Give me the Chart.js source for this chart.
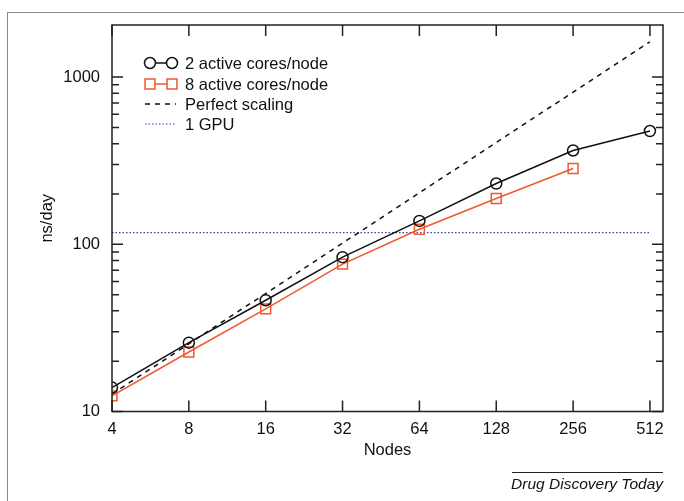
<!DOCTYPE html>
<html>
<head>
<meta charset="utf-8">
<script src="https://cdn.jsdelivr.net/npm/chart.js@4/dist/chart.umd.min.js"></script>
<style>
  body { margin: 0; background: #fff; }
  #wrap { width: 684px; height: 501px; position: relative; }
</style>
</head>
<body>
<div id="wrap"><canvas id="myChart"></canvas></div>
<script>
var nodes = [4, 8, 16, 32, 64, 128, 256, 512];
var cores2 = [13.9, 25.8, 46.3, 83.8, 138, 231, 364, 476];
var cores8 = [12.4, 22.7, 41.1, 76.1, 123, 188, 284];
var perfectNodes = [4, 512];
var perfect = [12.7, 1626];
var gpuNodes = [4, 512];
var gpu = [117.5, 117.5];
var yTicks = [10, 100, 1000];
var yMinor = [20, 30, 40, 50, 60, 70, 80, 90, 200, 300, 400, 500, 600, 700, 800, 900];
var legendLabels = ["2 active cores/node", "8 active cores/node", "Perfect scaling", "1 GPU"];

var orange = "rgb(240,88,48)";
var fontFam = "'Liberation Sans', Arial, Helvetica, sans-serif";

function pts(xs, ys) {
    var out = [];
    for (var i = 0; i < ys.length; i++) {
        out.push({ x: xs[i], y: ys[i] });
    }
    return out;
}

// frame, inward ticks, legend and credit line
var extras = {
    id: "extras",
    afterDraw: function (chart) {
        var ctx = chart.ctx;
        var a = chart.chartArea;
        var xs = chart.scales.x, ys = chart.scales.y;
        ctx.save();

        // outer grey frame
        ctx.strokeStyle = "#8a8a8a";
        ctx.lineWidth = 1;
        ctx.strokeRect(7.5, 12.5, 720, 600);

        // plot box
        ctx.strokeStyle = "#222";
        ctx.lineWidth = 1.5;
        ctx.strokeRect(a.left, a.top, a.right - a.left, a.bottom - a.top);

        // ticks
        ctx.beginPath();
        nodes.forEach(function (v) {
            var px = xs.getPixelForValue(v);
            ctx.moveTo(px, a.bottom); ctx.lineTo(px, a.bottom - 11);
            ctx.moveTo(px, a.top); ctx.lineTo(px, a.top + 11);
        });
        yTicks.forEach(function (v) {
            var py = ys.getPixelForValue(v);
            ctx.moveTo(a.left, py); ctx.lineTo(a.left + 11, py);
            ctx.moveTo(a.right, py); ctx.lineTo(a.right - 11, py);
        });
        yMinor.forEach(function (v) {
            var py = ys.getPixelForValue(v);
            ctx.moveTo(a.left, py); ctx.lineTo(a.left + 7, py);
            ctx.moveTo(a.right, py); ctx.lineTo(a.right - 7, py);
        });
        ctx.stroke();

        // legend
        var ds = chart.data.datasets;
        var lx0 = 145, lx1 = 176, ly = [63, 84, 104, 124];
        ctx.font = "16.5px " + fontFam;
        ctx.textBaseline = "middle";
        ctx.textAlign = "left";
        for (var i = 0; i < 4; i++) {
            var d = ds[i];
            ctx.strokeStyle = d.borderColor;
            ctx.lineWidth = d.borderWidth;
            ctx.setLineDash(d.borderDash || []);
            ctx.beginPath();
            ctx.moveTo(lx0 + (d.pointRadius ? 4 : 0), ly[i]);
            ctx.lineTo(lx1 - (d.pointRadius ? 4 : 0), ly[i]);
            ctx.stroke();
            ctx.setLineDash([]);
            if (d.pointRadius) {
                ctx.fillStyle = "#fff";
                ctx.lineWidth = 1.5;
                Chart.helpers.drawPoint(ctx, {
                    pointStyle: d.pointStyle, radius: d.pointRadius, borderWidth: 1.5, rotation: 0
                }, lx0 + 5, ly[i]);
                Chart.helpers.drawPoint(ctx, {
                    pointStyle: d.pointStyle, radius: d.pointRadius, borderWidth: 1.5, rotation: 0
                }, lx1 - 4, ly[i]);
            }
            ctx.fillStyle = "#111";
            ctx.fillText(legendLabels[i], 185, ly[i] + 1);
        }

        // credit
        ctx.strokeStyle = "#222";
        ctx.lineWidth = 1;
        ctx.beginPath();
        ctx.moveTo(512, 472.5); ctx.lineTo(663, 472.5);
        ctx.stroke();
        ctx.font = "italic 15.5px " + fontFam;
        ctx.textAlign = "right";
        ctx.fillText("Drug Discovery Today", 663, 485);
        ctx.restore();
    }
};

Chart.defaults.font.family = fontFam;
Chart.defaults.font.size = 16.5;
Chart.defaults.color = "#111";

var ctx = document.getElementById("myChart").getContext("2d");
var myChart = new Chart(ctx, {
    type: "scatter",
    data: {
        datasets: [
            {
                label: legendLabels[0],
                data: pts(nodes, cores2),
                showLine: true,
                borderColor: "#111",
                backgroundColor: "rgba(0,0,0,0)",
                borderWidth: 1.5,
                pointStyle: "circle",
                pointRadius: 5.5,
                pointBorderWidth: 1.5,
            },
            {
                label: legendLabels[1],
                data: pts(nodes, cores8),
                showLine: true,
                borderColor: orange,
                backgroundColor: "rgba(0,0,0,0)",
                borderWidth: 1.5,
                pointStyle: "rect",
                pointRadius: 7,
                pointBorderWidth: 1.5,
            },
            {
                label: legendLabels[2],
                data: pts(perfectNodes, perfect),
                showLine: true,
                borderColor: "#111",
                borderWidth: 1.5,
                borderDash: [5, 5],
                pointRadius: 0,
            },
            {
                label: legendLabels[3],
                data: pts(gpuNodes, gpu),
                showLine: true,
                borderColor: "#3a3aa0",
                borderWidth: 1.2,
                borderDash: [1.5, 2],
                pointRadius: 0,
            },
        ],
    },
    options: {
        responsive: true,
        maintainAspectRatio: false,
        animation: false,
        layout: { padding: { left: 0, right: 21, top: 25, bottom: 0 } },
        plugins: {
            legend: { display: false },
            tooltip: { enabled: false },
        },
        scales: {
            x: {
                type: "logarithmic",
                min: 4,
                max: 576,
                grid: { display: false, drawTicks: false },
                border: { display: false },
                afterBuildTicks: function (scale) {
                    scale.ticks = nodes.map(function (v) { return { value: v }; });
                },
                afterFit: function (scale) { scale.height = 89.5; },
                ticks: {
                    padding: 8,
                    maxRotation: 0,
                    autoSkip: false,
                    callback: function (v) { return String(v); },
                },
                title: { display: true, text: "Nodes", padding: { top: 0, bottom: 41 } },
            },
            y: {
                type: "logarithmic",
                min: 10,
                max: 2050,
                grid: { display: false, drawTicks: false },
                border: { display: false },
                afterBuildTicks: function (scale) {
                    scale.ticks = yTicks.map(function (v) { return { value: v }; });
                },
                afterFit: function (scale) { scale.width = 112; },
                ticks: {
                    padding: 12,
                    callback: function (v) { return String(v); },
                },
                title: { display: true, text: "ns/day", padding: { top: 38, bottom: 0 } },
            },
        },
    },
    plugins: [extras],
});
</script>
</body>
</html>
